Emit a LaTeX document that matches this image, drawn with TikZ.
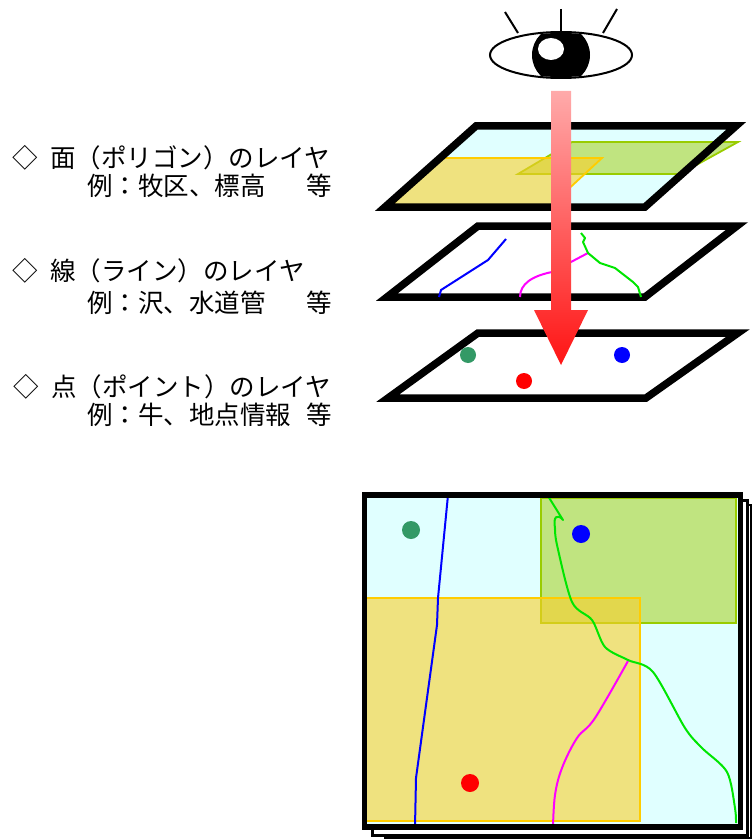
\documentclass[tikz,border=0pt]{standalone}
\usepackage{fontspec}
\setmainfont{Noto Sans CJK JP}
\usepackage{xcolor}
\usepackage{tikz}
\usetikzlibrary{positioning}

\definecolor{skyfill}{RGB}{224,255,255}
\definecolor{fieldfill}{RGB}{250,207,43}
\definecolor{fieldline}{RGB}{255,204,0}
\definecolor{grassfill}{RGB}{192,228,128}
\definecolor{grassline}{RGB}{153,204,0}
\definecolor{dotgreen}{RGB}{51,153,102}
\definecolor{pipe}{RGB}{255,0,255}
\definecolor{brook}{RGB}{0,230,0}
\definecolor{arrowtop}{RGB}{255,170,170}
\definecolor{arrowbot}{RGB}{255,20,20}

\begin{document}
\begin{tikzpicture}[
  x=1pt,y=-1pt,
  sheet/.style={draw,line width=7.5pt,line join=miter},
  fieldarea/.style={fill=fieldfill,fill opacity=0.6,draw=fieldline,line width=1.8pt},
  grassarea/.style={fill=grassfill,draw=grassline,line width=1.8pt},
  river/.style={line width=2pt,line join=round},
  caption/.style={anchor=west,inner sep=0pt,font=\fontsize{25.5}{30}\selectfont},
]
  \useasboundingbox (0,0) rectangle (752,840);

  % legend text
  \node[caption] (polyhead)  at (12,158) {◇\enspace 面（ポリゴン）のレイヤ};
  \node[caption] (polyex)    at (87,186) {例：牧区、標高\hspace{1.6em}等};
  \node[caption] (linehead)  at (12,271) {◇\enspace 線（ライン）のレイヤ};
  \node[caption] (lineex)    at (87,303) {例：沢、水道管\hspace{1.6em}等};
  \node[caption] (pointhead) at (13,387) {◇\enspace 点（ポイント）のレイヤ};
  \node[caption] (pointex)   at (87,415) {例：牛、地点情報\hspace{0.6em}等};

  % eye
  \draw[line width=2pt] (505,12) -- (518,33);
  \draw[line width=2pt] (561,9) -- (561,32);
  \draw[line width=2pt] (617,9) -- (603,33);
  \draw[line width=2pt,fill=white] (561,55) ellipse [x radius=71pt,y radius=23pt];
  \begin{scope}
    \clip (561,55) ellipse [x radius=70pt,y radius=22pt];
    \fill (561,55) circle [radius=29pt];
    \fill[white] (551,49) ellipse [x radius=13pt,y radius=11pt];
  \end{scope}

  % polygon layer
  \fill[skyfill] (476,126) -- (736,126) -- (645,207) -- (385,207) -- cycle;
  \draw[grassarea] (572,142) -- (738,142) -- (680,174) -- (518,174) -- cycle;
  \draw[fieldarea] (440,158) -- (602,158) -- (549,207) -- (390,207) -- cycle;
  \draw[sheet] (476,126) -- (736,126) -- (645,207) -- (385,207) -- cycle;

  % line layer
  \draw[sheet,fill=white] (478,226) -- (737,226) -- (645,297) -- (387,297) -- cycle;
  \draw[river,blue] (439,297) -- (441,290) -- (488,260) -- (506,239);
  \draw[river,pipe] (520,297) .. controls (520,284) and (532,276) .. (552,272) -- (588,253);
  \draw[river,brook] (581,233) -- (585,238) -- (583,242) -- (588,253) -- (600,263)
    -- (615,268) -- (633,282) -- (638,287) -- (641,297);

  % point layer
  \draw[sheet,fill=white] (478,333) -- (738,333) -- (646,398) -- (388,398) -- cycle;
  \fill[dotgreen] (468,355) circle [radius=8pt];
  \fill[red]      (524,381) circle [radius=8pt];
  \fill[blue]     (622,355) circle [radius=8pt];

  % viewing direction
  \shade[top color=arrowtop,bottom color=arrowbot]
    (551,91) -- (571,91) -- (571,310) -- (588,310) -- (561,365)
    -- (534,310) -- (551,310) -- cycle;

  % overlay of all layers
  \draw[line width=2.5pt,fill=white] (385,505) rectangle (751,838);
  \draw[line width=3pt,fill=white] (372,500) rectangle (747,835);
  \fill[skyfill] (364.5,495) rectangle (740.5,827);
  \draw[grassarea] (541,498) rectangle (736,623);
  \draw[fieldarea] (366,598) rectangle (640,821);
  \draw[river,blue] (448,495) -- (438,598) -- (437,625) -- (416,778) -- (415,827);
  \draw[river,pipe] plot[smooth,tension=0.6] coordinates
    {(628,661) (595,718) (577,738) (562,768) (555,795) (553,827)};
  \draw[river,brook] (548,496) -- (563,520) .. controls (557,513) and (553,517) .. (555,528);
  \draw[river,brook] plot[smooth,tension=0.5] coordinates
    {(555,528) (557,545) (572,602) (592,620) (605,647) (628,660) (653,672)
     (685,728) (702,748) (727,772) (735,808) (736,823)};
  \fill[dotgreen] (411,530) circle [radius=9pt];
  \fill[blue]     (581,534) circle [radius=9pt];
  \fill[red]      (470,783) circle [radius=9pt];
  \draw[line width=5.5pt] (364.5,495) rectangle (740.5,827);
\end{tikzpicture}
\end{document}
